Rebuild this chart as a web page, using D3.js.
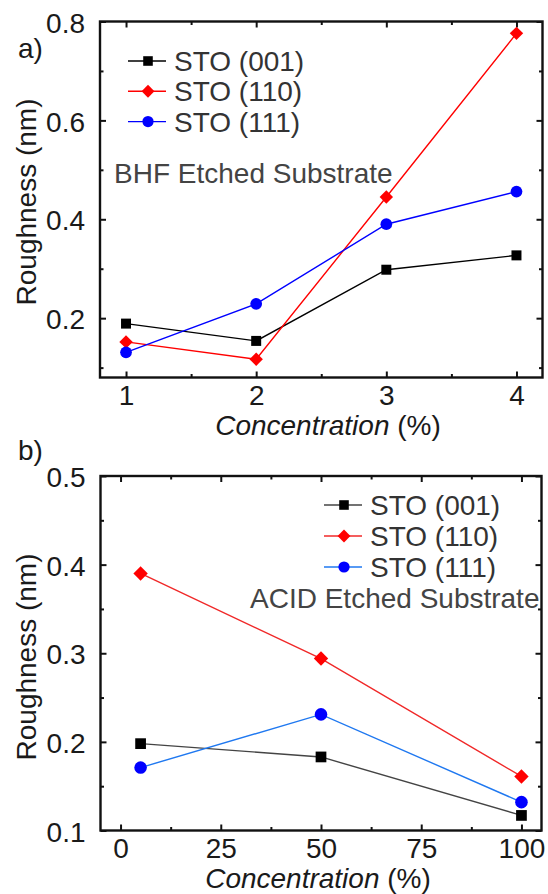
<!DOCTYPE html>
<html>
<head>
<meta charset="utf-8">
<script src="https://cdn.jsdelivr.net/npm/d3@7"></script>
<style>
  html, body { margin: 0; padding: 0; background: #fff; }
  svg { display: block; font-family: "Liberation Sans", Arial, Helvetica, sans-serif; }
</style>
</head>
<body>
<svg id="chart" width="548" height="894"></svg>
<script>
// ---------- data ----------
const seriesNames = ["STO (001)", "STO (110)", "STO (111)"];

// panel a) BHF etched substrate
const xA = [1, 2, 3, 4];
const a001 = [0.189, 0.154, 0.298, 0.327];
const a110 = [0.152, 0.117, 0.445, 0.776];
const a111 = [0.131, 0.229, 0.390, 0.456];
const xTicksA = [1, 2, 3, 4];
const xMinorA = [1.5, 2.5, 3.5];
const yTicksA = [0.2, 0.4, 0.6, 0.8];
const yMinorA = [0.1, 0.3, 0.5, 0.7];

// panel b) ACID etched substrate
const xB = [5, 50, 100];
const b001 = [0.198, 0.183, 0.117];
const b110 = [0.390, 0.294, 0.161];
const b111 = [0.171, 0.231, 0.132];
const xTicksB = [0, 25, 50, 75, 100];
const xMinorB = [12.5, 37.5, 62.5, 87.5];
const yTicksB = [0.1, 0.2, 0.3, 0.4, 0.5];
const yMinorB = [0.15, 0.25, 0.35, 0.45];

const svg = d3.select("#chart");

const shapes = [
  { type: d3.symbolSquare, size: 100, rot: 0, fill: "#000" },
  { type: d3.symbolSquare, size: 90, rot: 45, fill: "#ff0000" },
  { type: d3.symbolCircle, size: 108, rot: 0, fill: "#0000ff" }
];

function drawPanel(cfg) {
  const g = svg.append("g");
  const x = d3.scaleLinear().domain(cfg.xDomain).range([cfg.left, cfg.right]);
  const y = d3.scaleLinear().domain(cfg.yDomain).range([cfg.bottom, cfg.top]);
  const w = cfg.right - cfg.left, h = cfg.bottom - cfg.top;

  const styleAxis = sel => {
    sel.select(".domain").remove();
    sel.selectAll(".tick line").attr("stroke", "#111").attr("stroke-width", 2);
    sel.selectAll("text").attr("fill", "#1a1a1a").style("font-size", "28px");
  };

  // bottom major
  g.append("g").attr("transform", `translate(0,${cfg.bottom})`)
    .call(d3.axisBottom(x).tickValues(cfg.xTicks).tickSize(-6).tickPadding(8).tickFormat(d3.format("d")))
    .call(styleAxis);
  g.append("g").attr("transform", `translate(0,${cfg.bottom})`)
    .call(d3.axisBottom(x).tickValues(cfg.xMinor).tickSize(-3.5).tickFormat(""))
    .call(styleAxis);
  // top
  g.append("g").attr("transform", `translate(0,${cfg.top})`)
    .call(d3.axisTop(x).tickValues(cfg.xTicks).tickSize(-6).tickFormat(""))
    .call(styleAxis);
  g.append("g").attr("transform", `translate(0,${cfg.top})`)
    .call(d3.axisTop(x).tickValues(cfg.xMinor).tickSize(-3.5).tickFormat(""))
    .call(styleAxis);
  // left
  g.append("g").attr("transform", `translate(${cfg.left},0)`)
    .call(d3.axisLeft(y).tickValues(cfg.yTicks).tickSize(-6).tickPadding(15).tickFormat(d3.format(".1f")))
    .call(styleAxis)
    .selectAll("text").attr("dy", "0.38em");
  g.append("g").attr("transform", `translate(${cfg.left},0)`)
    .call(d3.axisLeft(y).tickValues(cfg.yMinor).tickSize(-3.5).tickFormat(""))
    .call(styleAxis);
  // right
  g.append("g").attr("transform", `translate(${cfg.right},0)`)
    .call(d3.axisRight(y).tickValues(cfg.yTicks).tickSize(-6).tickFormat(""))
    .call(styleAxis);
  g.append("g").attr("transform", `translate(${cfg.right},0)`)
    .call(d3.axisRight(y).tickValues(cfg.yMinor).tickSize(-3.5).tickFormat(""))
    .call(styleAxis);

  // frame
  g.append("rect").attr("x", cfg.left).attr("y", cfg.top).attr("width", w).attr("height", h)
    .attr("fill", "none").attr("stroke", "#111").attr("stroke-width", 2.4);

  // series
  const line = d3.line().x(d => x(d[0])).y(d => y(d[1]));
  cfg.series.forEach((vals, i) => {
    const pts = cfg.xs.map((xv, j) => [xv, vals[j]]);
    g.append("path").datum(pts).attr("d", line)
      .attr("fill", "none").attr("stroke", cfg.lineColors[i]).attr("stroke-width", 1.4);
  });
  cfg.series.forEach((vals, i) => {
    const s = shapes[i];
    const sym = d3.symbol().type(s.type).size(s.size * cfg.markScale);
    cfg.xs.forEach((xv, j) => {
      g.append("path").attr("d", sym())
        .attr("transform", `translate(${x(xv)},${y(vals[j])}) rotate(${s.rot})`)
        .attr("fill", s.fill);
    });
  });

  // legend
  seriesNames.forEach((name, i) => {
    const cy = cfg.legY + i * cfg.legStep;
    g.append("line").attr("x1", cfg.legX).attr("x2", cfg.legX + 38).attr("y1", cy).attr("y2", cy)
      .attr("stroke", cfg.lineColors[i]).attr("stroke-width", 1.4);
    const s = shapes[i];
    g.append("path").attr("d", d3.symbol().type(s.type).size(s.size * 0.92)())
      .attr("transform", `translate(${cfg.legX + 20},${cy}) rotate(${s.rot})`)
      .attr("fill", s.fill);
    g.append("text").attr("x", cfg.legX + 46).attr("y", cy + 10)
      .attr("fill", "#333").style("font-size", "28px").text(name);
  });

  // annotation
  g.append("text").attr("x", cfg.noteX).attr("y", cfg.noteY)
    .attr("fill", "#444").style("font-size", "28px").text(cfg.note);

  // panel letter
  g.append("text").attr("x", 18).attr("y", cfg.letterY)
    .attr("fill", "#1a1a1a").style("font-size", "28px").text(cfg.letter);

  // axis titles
  g.append("text")
    .attr("transform", `translate(36,${cfg.yTitleY}) rotate(-90)`)
    .attr("text-anchor", "middle").attr("fill", "#1a1a1a").style("font-size", "28px")
    .text("Roughness (nm)");
  const xt = g.append("text").attr("x", cfg.xTitleX).attr("y", cfg.xTitleBase)
    .attr("text-anchor", "middle").attr("fill", "#1a1a1a").style("font-size", "28px");
  xt.append("tspan").style("font-style", "italic").text("Concentration");
  xt.append("tspan").text(" (%)");
}

drawPanel({
  left: 100, right: 542.5, top: 21.5, bottom: 377.5,
  xDomain: [0.8, 4.2], yDomain: [0.08, 0.8],
  xTicks: xTicksA, xMinor: xMinorA, yTicks: yTicksA, yMinor: yMinorA,
  xs: xA, series: [a001, a110, a111],
  lineColors: ["#000000", "#ff0000", "#0000ff"],
  markScale: 1,
  legX: 128, legY: 61, legStep: 30.3,
  note: "BHF Etched Substrate", noteX: 114, noteY: 183,
  letter: "a)", letterY: 58,
  yTitleY: 202, xTitleX: 328, xTitleBase: 435
});

drawPanel({
  left: 100.5, right: 541.5, top: 476, bottom: 830.5,
  xDomain: [-5, 105], yDomain: [0.1, 0.5],
  xTicks: xTicksB, xMinor: xMinorB, yTicks: yTicksB, yMinor: yMinorB,
  xs: xB, series: [b001, b110, b111],
  lineColors: ["#444444", "#f02828", "#1f78f0"],
  markScale: 1.15,
  legX: 324, legY: 505, legStep: 31,
  note: "ACID Etched Substrate", noteX: 250, noteY: 608,
  letter: "b)", letterY: 460,
  yTitleY: 657, xTitleX: 318, xTitleBase: 888
});
</script>
</body>
</html>
